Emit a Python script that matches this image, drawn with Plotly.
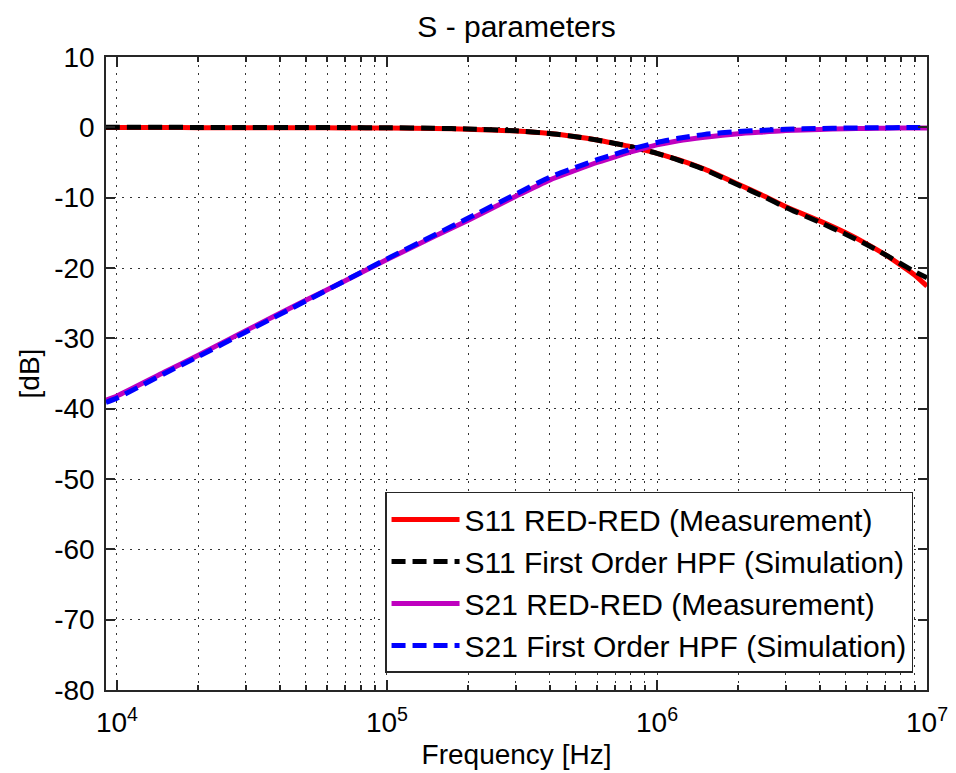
import plotly.graph_objects as go

# ---- data ----
freq_hz = [9.1e3, 1e4, 1.5e4, 2e4, 3e4, 5e4, 7e4, 1e5, 1.5e5, 2e5, 3e5, 4e5, 5e5,
           6e5, 7e5, 8e5, 9e5, 1e6, 1.2e6, 1.5e6, 2e6, 2.5e6, 3e6, 4e6, 5e6,
           6e6, 7e6, 8e6, 9e6, 1e7]

s11_meas = [-0.02, -0.02, -0.03, -0.05, -0.06, -0.07, -0.08, -0.1, -0.16, -0.26,
            -0.52, -0.88, -1.33, -1.8, -2.3, -2.75, -3.25, -3.7, -4.6, -5.95,
            -8.1, -9.8, -11.3, -13.3, -15.0, -16.6, -18.1, -19.6, -21.0, -22.6]

s11_sim = [0, 0, 0, -0.01, -0.01, -0.02, -0.03, -0.06, -0.13, -0.23,
           -0.5, -0.87, -1.33, -1.8, -2.3, -2.75, -3.25, -3.7, -4.65, -6.0,
           -8.2, -9.9, -11.4, -13.5, -15.2, -16.7, -18.1, -19.4, -20.5, -21.4]

s21_meas = [-38.8, -38.2, -34.8, -32.4, -28.9, -24.6, -21.8, -18.8, -15.5, -13.2,
            -9.8, -7.5, -6.1, -5.0, -4.2, -3.5, -2.95, -2.5, -1.9, -1.4,
            -0.9, -0.65, -0.45, -0.3, -0.2, -0.15, -0.12, -0.1, -0.1, -0.1]

s21_sim = [-39.1, -38.5, -35.0, -32.6, -29.1, -24.7, -21.8, -18.7, -15.3, -12.9,
           -9.5, -7.1, -5.7, -4.6, -3.8, -3.1, -2.6, -2.15, -1.55, -1.0,
           -0.6, -0.4, -0.28, -0.16, -0.1, -0.07, -0.05, -0.04, -0.03, -0.03]

series_names = ["S11 RED-RED (Measurement)",
                "S11 First Order HPF (Simulation)",
                "S21 RED-RED (Measurement)",
                "S21 First Order HPF (Simulation)"]

y_ticks = [-80, -70, -60, -50, -40, -30, -20, -10, 0, 10]
y_ticktext = ["-80", "-70", "-60", "-50", "-40", "-30", "-20", "-10", "0", "10"]
x_ticks = [1e4, 1e5, 1e6, 1e7]
x_ticktext = ["10<sup>4</sup>", "10<sup>5</sup>", "10<sup>6</sup>", "10<sup>7</sup>"]

FONT = "Liberation Sans, Arial, Helvetica, sans-serif"
DASH = "14px,7px"

fig = go.Figure()
styles = [
    (s11_meas, "#FF0000", "solid"),
    (s11_sim, "#000000", DASH),
    (s21_meas, "#BF00BF", "solid"),
    (s21_sim, "#0000FF", DASH),
]
for (vals, col, dash), name in zip(styles, series_names):
    fig.add_trace(go.Scatter(
        x=freq_hz, y=vals, mode="lines", name=name,
        line=dict(color=col, width=5, dash=dash, shape="spline", smoothing=0.6),
    ))

axis_common = dict(
    showline=True, linecolor="#262626", linewidth=1.5, mirror="allticks",
    ticks="inside", tickcolor="#262626", tickwidth=1.5,
    tickfont=dict(family=FONT, size=28, color="black"),
    showgrid=True, gridcolor="#333333", gridwidth=1, griddash="2px,6px",
    zeroline=False, automargin=False,
)

fig.update_xaxes(
    type="log", range=[3.9593, 7], tickvals=x_ticks, ticktext=x_ticktext,
    ticklen=10, ticklabelstandoff=7,
    minor=dict(dtick="D1", ticks="inside", ticklen=5, tickcolor="#262626",
               showgrid=True, gridcolor="#333333", gridwidth=1, griddash="2px,6px"),
    title=dict(text="Frequency [Hz]", font=dict(family=FONT, size=28, color="black"),
               standoff=7),
    **axis_common,
)
fig.update_yaxes(
    range=[-80, 10], tickvals=y_ticks, ticktext=y_ticktext, ticklen=9,
    ticklabelstandoff=4,
    title=dict(text="[dB]", font=dict(family=FONT, size=28, color="black"),
               standoff=6),
    **axis_common,
)

fig.update_layout(
    width=956, height=773,
    margin=dict(l=106, r=29, t=57, b=83),
    paper_bgcolor="white", plot_bgcolor="white",
    title=dict(text="S - parameters", font=dict(family=FONT, size=30, color="black"),
               x=0.5, xref="paper", y=1 - 26 / 773, yref="container", yanchor="middle"),
    legend=dict(
        x=0.983, y=0.027, xanchor="right", yanchor="bottom",
        bgcolor="white", bordercolor="#262626", borderwidth=1.5,
        font=dict(family=FONT, size=30, color="black"),
        itemwidth=68, tracegroupgap=0,
    ),
    showlegend=True,
)

fig.write_html("out.html")
